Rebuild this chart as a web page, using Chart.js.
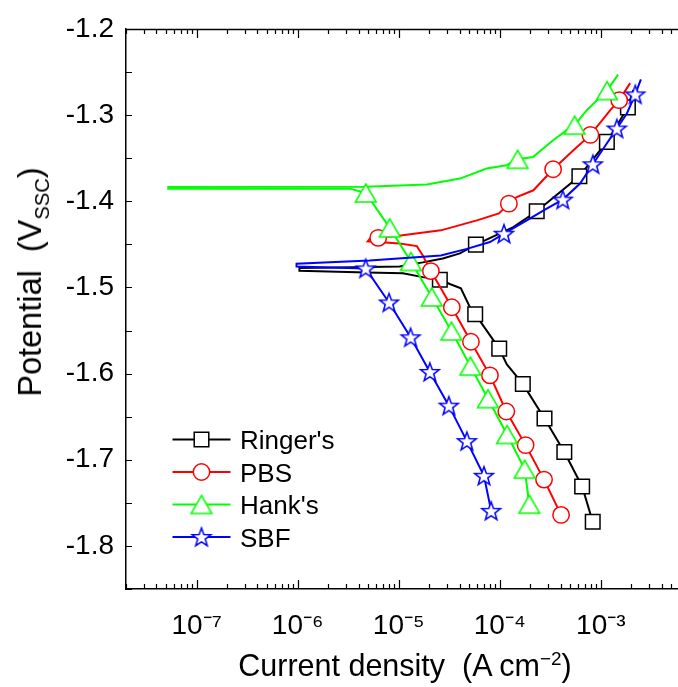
<!DOCTYPE html>
<html>
<head>
<meta charset="utf-8">
<script src="https://cdn.jsdelivr.net/npm/chart.js@4.4.1/dist/chart.umd.min.js"></script>
<style>
  html, body { margin: 0; padding: 0; background: #fff; overflow: hidden; }
  #wrap { position: relative; width: 678px; height: 687px; }
  .axis-title { position: absolute; font-family: "Liberation Sans", Arial, sans-serif; font-size: 30px; line-height: 34px; color: #000; white-space: pre; }
  .axis-title sub, .axis-title sup { font-size: 62%; line-height: 0; }
  #xTitle { left: 405px; top: 648px; font-size: 30.5px; transform: translateX(-50%); }
  #yTitle { left: 30px; top: 282px; font-size: 32.5px; transform: translate(-50%, -50%) rotate(-90deg); }
</style>
</head>
<body>
<div id="wrap">
  <canvas id="tafelChart" width="678" height="687"></canvas>
  <div class="axis-title" id="xTitle">Current density  (A cm<sup>−2</sup>)</div>
  <div class="axis-title" id="yTitle">Potential  (V<sub>SSC</sub>)</div>
</div>
<script>
// ===== data (A cm-2 / V vs SSC), scan order: cathodic -> Ecorr -> anodic =====
const seriesNames = ["Ringer's", "PBS", "Hank's", "SBF"];
const seriesColors = ['#000000', '#ff0000', '#00ff00', '#0000ff'];

const ringersCurrent = [8.31e-4, 6.53e-4, 4.35e-4, 2.77e-4, 1.69e-4, 1.17e-4, 9.87e-5, 5.71e-5, 5.06e-5, 4.12e-5, 3.20e-5, 2.55e-5, 1.73e-5, 1.10e-5, 4.82e-6, 1.04e-6, 1.04e-6, 5.16e-6, 1.02e-5, 1.73e-5, 2.73e-5, 4.03e-5, 5.80e-5, 1.36e-4, 2.32e-4, 6.13e-4, 1.147e-3, 1.852e-3, 2.09e-3];
const ringersPotential = [-1.772, -1.731, -1.691, -1.652, -1.612, -1.589, -1.571, -1.531, -1.523, -1.501, -1.496, -1.491, -1.488, -1.4834, -1.4825, -1.4805, -1.4775, -1.4762, -1.4756, -1.4709, -1.4663, -1.4605, -1.4503, -1.4299, -1.4116, -1.3709, -1.3310, -1.2910, -1.271];
const ringersMarkCurrent = [8.31e-4, 6.53e-4, 4.35e-4, 2.77e-4, 1.69e-4, 9.87e-5, 5.71e-5, 2.55e-5, 5.80e-5, 2.32e-4, 6.13e-4, 1.147e-3, 1.852e-3];
const ringersMarkPotential = [-1.772, -1.731, -1.691, -1.652, -1.612, -1.571, -1.531, -1.491, -1.4503, -1.4116, -1.3709, -1.3310, -1.2910];

const pbsCurrent = [4.04e-4, 2.74e-4, 1.80e-4, 1.16e-4, 7.99e-5, 5.18e-5, 3.35e-5, 2.08e-5, 1.73e-5, 1.51e-5, 1.02e-5, 4.93e-6, 5.16e-6, 6.26e-6, 1.00e-5, 2.61e-5, 3.94e-5, 5.93e-5, 9.81e-5, 1.23e-4, 1.47e-4, 2.15e-4, 3.37e-4, 5.35e-4, 7.88e-4, 1.24e-3, 1.52e-3, 1.95e-3];
const pbsPotential = [-1.764, -1.723, -1.683, -1.644, -1.602, -1.563, -1.523, -1.481, -1.463, -1.452, -1.449, -1.4465, -1.4436, -1.4424, -1.4401, -1.4337, -1.4279, -1.4221, -1.4140, -1.4027, -1.395, -1.3872, -1.3628, -1.3407, -1.3229, -1.2942, -1.2826, -1.2628];
const pbsMarkCurrent = [4.04e-4, 2.74e-4, 1.80e-4, 1.16e-4, 7.99e-5, 5.18e-5, 3.35e-5, 2.08e-5, 6.26e-6, 1.23e-4, 3.37e-4, 7.88e-4, 1.52e-3];
const pbsMarkPotential = [-1.764, -1.723, -1.683, -1.644, -1.602, -1.563, -1.523, -1.481, -1.4424, -1.4027, -1.3628, -1.3229, -1.2826];

const hanksCurrent = [1.96e-4, 1.76e-4, 1.18e-4, 7.63e-5, 5.12e-5, 3.32e-5, 2.12e-5, 1.32e-5, 8.14e-6, 4.71e-6, 3.27e-6, 5.24e-8, 5.24e-8, 4.71e-6, 1.90e-5, 4.03e-5, 7.41e-5, 1.17e-4, 1.50e-4, 2.13e-4, 3.37e-4, 4.60e-4, 5.50e-4, 7.26e-4, 1.15e-3, 1.48e-3];
const hanksPotential = [-1.7515, -1.7108, -1.6706, -1.6291, -1.5913, -1.5506, -1.5110, -1.4698, -1.4308, -1.3903, -1.3853, -1.3853, -1.3833, -1.3830, -1.3806, -1.3736, -1.3620, -1.3581, -1.3512, -1.3485, -1.3291, -1.3174, -1.3116, -1.2942, -1.2715, -1.2529];
const hanksMarkCurrent = [1.96e-4, 1.76e-4, 1.18e-4, 7.63e-5, 5.12e-5, 3.32e-5, 2.12e-5, 1.32e-5, 8.14e-6, 4.71e-6, 1.50e-4, 5.50e-4, 1.15e-3];
const hanksMarkPotential = [-1.7515, -1.7108, -1.6706, -1.6291, -1.5913, -1.5506, -1.5110, -1.4698, -1.4308, -1.3903, -1.3512, -1.3116, -1.2715];

const sbfCurrent = [8.21e-5, 6.97e-5, 4.72e-5, 3.13e-5, 2.03e-5, 1.31e-5, 8.01e-6, 4.71e-6, 2.07e-6, 9.74e-7, 9.74e-7, 5.16e-6, 2.61e-5, 4.72e-5, 7.99e-5, 1.10e-4, 1.85e-4, 2.91e-4, 4.20e-4, 6.23e-4, 8.33e-4, 1.44e-3, 1.81e-3, 2.19e-3, 2.49e-3];
const sbfPotential = [-1.7593, -1.7186, -1.6783, -1.6372, -1.5980, -1.5578, -1.5174, -1.4779, -1.4767, -1.4756, -1.4724, -1.4686, -1.4628, -1.4552, -1.4473, -1.4376, -1.4221, -1.4085, -1.3980, -1.3794, -1.3570, -1.3155, -1.298, -1.2759, -1.2585];
const sbfMarkCurrent = [8.21e-5, 6.97e-5, 4.72e-5, 3.13e-5, 2.03e-5, 1.31e-5, 8.01e-6, 4.71e-6, 1.10e-4, 4.20e-4, 8.33e-4, 1.44e-3, 2.19e-3];
const sbfMarkPotential = [-1.7593, -1.7186, -1.6783, -1.6372, -1.5980, -1.5578, -1.5174, -1.4779, -1.4376, -1.3980, -1.3570, -1.3155, -1.2759];

// ===== axes =====
const xMin = 2e-8, xMax = 5.8e-3;
const xMajorTicks = [1e-7, 1e-6, 1e-5, 1e-4, 1e-3];
const xTickLabels = ['10⁻⁷', '10⁻⁶', '10⁻⁵', '10⁻⁴', '10⁻³'];
const yMin = -1.85, yMax = -1.2;
const yMajorTicks = [-1.8, -1.7, -1.6, -1.5, -1.4, -1.3, -1.2];
const yTickLabels = ['-1.8', '-1.7', '-1.6', '-1.5', '-1.4', '-1.3', '-1.2'];

const FONT = '"Liberation Sans", Arial, sans-serif';

// log minor ticks 1..9 x 10^n inside the range
const xTicks = [];
for (let e = -8; e <= -3; e++) {
    for (let m = 1; m <= 9; m++) {
        const v = m * Math.pow(10, e);
        if (v >= xMin * 0.999 && v <= xMax) xTicks.push(v);
    }
}
const yTicks = [];
yMajorTicks.forEach(v => { yTicks.push(v); yTicks.push(v - 0.05); });

const near = (a, b) => Math.abs(a - b) < Math.abs(b) * 1e-6;
const majorX = v => xMajorTicks.findIndex(m => near(v, m));
const majorY = v => yMajorTicks.findIndex(m => near(v, m));

/* ===== marker images (hollow, white fill) ===== */
function makeMarker(color, draw) {
    const c = document.createElement('canvas');
    c.width = 28; c.height = 28;
    const g = c.getContext('2d');
    g.fillStyle = '#fff';
    g.strokeStyle = color;
    g.lineWidth = 1.5;
    g.beginPath();
    draw(g, 14, 14);
    g.closePath();
    g.fill();
    g.stroke();
    return c;
}
const triangleMark = makeMarker('#00ff00', (g, cx, cy) => {
    g.moveTo(cx, cy - 9);
    g.lineTo(cx + 10.4, cy + 9);
    g.lineTo(cx - 10.4, cy + 9);
});
const starMark = makeMarker('#0000ff', (g, cx, cy) => {
    for (let k = 0; k < 10; k++) {
        const r = k % 2 ? 4.0 : 9.8;
        const ang = -Math.PI / 2 + k * Math.PI / 5;
        const px = cx + r * Math.cos(ang), py = cy + 0.8 + r * Math.sin(ang);
        if (k === 0) g.moveTo(px, py); else g.lineTo(px, py);
    }
});
const markerStyles = ['rect', 'circle', triangleMark, starMark];
const markerRadii = [10.3, 8.2, 10, 10];

function points(cur, pot) {
    return cur.map((c, i) => ({ x: c, y: pot[i] }));
}
function curveSet(i, cur, pot, order) {
    return {
        label: seriesNames[i], data: points(cur, pot), showLine: true,
        borderColor: seriesColors[i], borderWidth: 2, pointRadius: 0, tension: 0, order
    };
}
function markSet(i, cur, pot, order) {
    return {
        label: seriesNames[i] + ' symbols', data: points(cur, pot), showLine: false,
        pointStyle: markerStyles[i], pointRadius: markerRadii[i],
        pointBorderColor: seriesColors[i], pointBackgroundColor: '#fff', pointBorderWidth: 1.5, order
    };
}

/* ===== tick marks, top border, legend ===== */
const frameAndLegend = {
    id: 'frameAndLegend',
    afterDraw(chart) {
        const { ctx, chartArea: a, scales: { x, y } } = chart;
        ctx.save();
        ctx.strokeStyle = '#000';
        ctx.lineWidth = 1.5;
        ctx.beginPath();
        ctx.moveTo(a.left, a.top + 0.5);
        ctx.lineTo(a.right, a.top + 0.5);
        ctx.stroke();

        ctx.lineWidth = 1.2;
        ctx.beginPath();
        x.ticks.forEach(t => {
            const px = Math.round(x.getPixelForValue(t.value)) + 0.5;
            const len = majorX(t.value) >= 0 ? 9 : 5;
            ctx.moveTo(px, a.bottom); ctx.lineTo(px, a.bottom - len);
            ctx.moveTo(px, a.top); ctx.lineTo(px, a.top + len);
        });
        y.ticks.forEach(t => {
            const py = Math.round(y.getPixelForValue(t.value)) + 0.5;
            ctx.moveTo(a.left, py); ctx.lineTo(a.left + 6, py);
        });
        ctx.stroke();

        // legend, lower left
        const x0 = a.left + 46.5;
        seriesNames.forEach((name, i) => {
            const yy = a.top + 410.5 + i * 32.5;
            ctx.strokeStyle = seriesColors[i];
            ctx.lineWidth = 2;
            ctx.beginPath();
            ctx.moveTo(x0, yy); ctx.lineTo(x0 + 58, yy);
            ctx.stroke();
            ctx.fillStyle = '#fff';
            ctx.lineWidth = 1.5;
            Chart.helpers.drawPoint(ctx, { pointStyle: markerStyles[i], radius: markerRadii[i], rotation: 0, borderWidth: 1.5 }, x0 + 29, yy);
            ctx.fillStyle = '#000';
            ctx.font = '26px ' + FONT;
            ctx.textAlign = 'left';
            ctx.textBaseline = 'alphabetic';
            ctx.fillText(name, x0 + 67.5, yy + 9.5);
        });
        ctx.restore();
    }
};

const ctx = document.getElementById('tafelChart');

new Chart(ctx, {
    type: 'scatter',
    data: {
        datasets: [
            curveSet(0, ringersCurrent, ringersPotential, 7),
            markSet(0, ringersMarkCurrent, ringersMarkPotential, 6),
            curveSet(1, pbsCurrent, pbsPotential, 5),
            markSet(1, pbsMarkCurrent, pbsMarkPotential, 4),
            curveSet(2, hanksCurrent, hanksPotential, 3),
            markSet(2, hanksMarkCurrent, hanksMarkPotential, 2),
            curveSet(3, sbfCurrent, sbfPotential, 1),
            markSet(3, sbfMarkCurrent, sbfMarkPotential, 0)
        ]
    },
    options: {
        responsive: false,
        animation: false,
        devicePixelRatio: 1,
        layout: { autoPadding: false, padding: { top: 29, right: 0, bottom: 0, left: 0 } },
        plugins: { legend: { display: false }, tooltip: { enabled: false } },
        scales: {
            x: {
                type: 'logarithmic',
                min: xMin, max: xMax,
                afterBuildTicks: s => { s.ticks = xTicks.map(v => ({ value: v })); },
                afterFit: s => { s.height = 98; s.paddingLeft = 0; s.paddingRight = 0; },
                grid: { display: false, drawTicks: false },
                border: { display: true, color: '#000', width: 1.5 },
                ticks: {
                    autoSkip: false, maxRotation: 0, padding: 20, color: '#000',
                    font: { family: FONT, size: 28 },
                    callback: v => { const k = majorX(v); return k >= 0 ? xTickLabels[k] : ''; }
                }
            },
            y: {
                min: yMin, max: yMax,
                afterBuildTicks: s => { s.ticks = yTicks.map(v => ({ value: v })); },
                afterFit: s => { s.width = 126; s.paddingTop = 0; s.paddingBottom = 0; },
                grid: { display: false, drawTicks: false },
                border: { display: true, color: '#000', width: 1.5 },
                ticks: {
                    autoSkip: false, padding: 12, color: '#000',
                    font: { family: FONT, size: 28 },
                    callback: v => { const k = majorY(v); return k >= 0 ? yTickLabels[k] : ''; }
                }
            }
        }
    },
    plugins: [frameAndLegend]
});
</script>
</body>
</html>
